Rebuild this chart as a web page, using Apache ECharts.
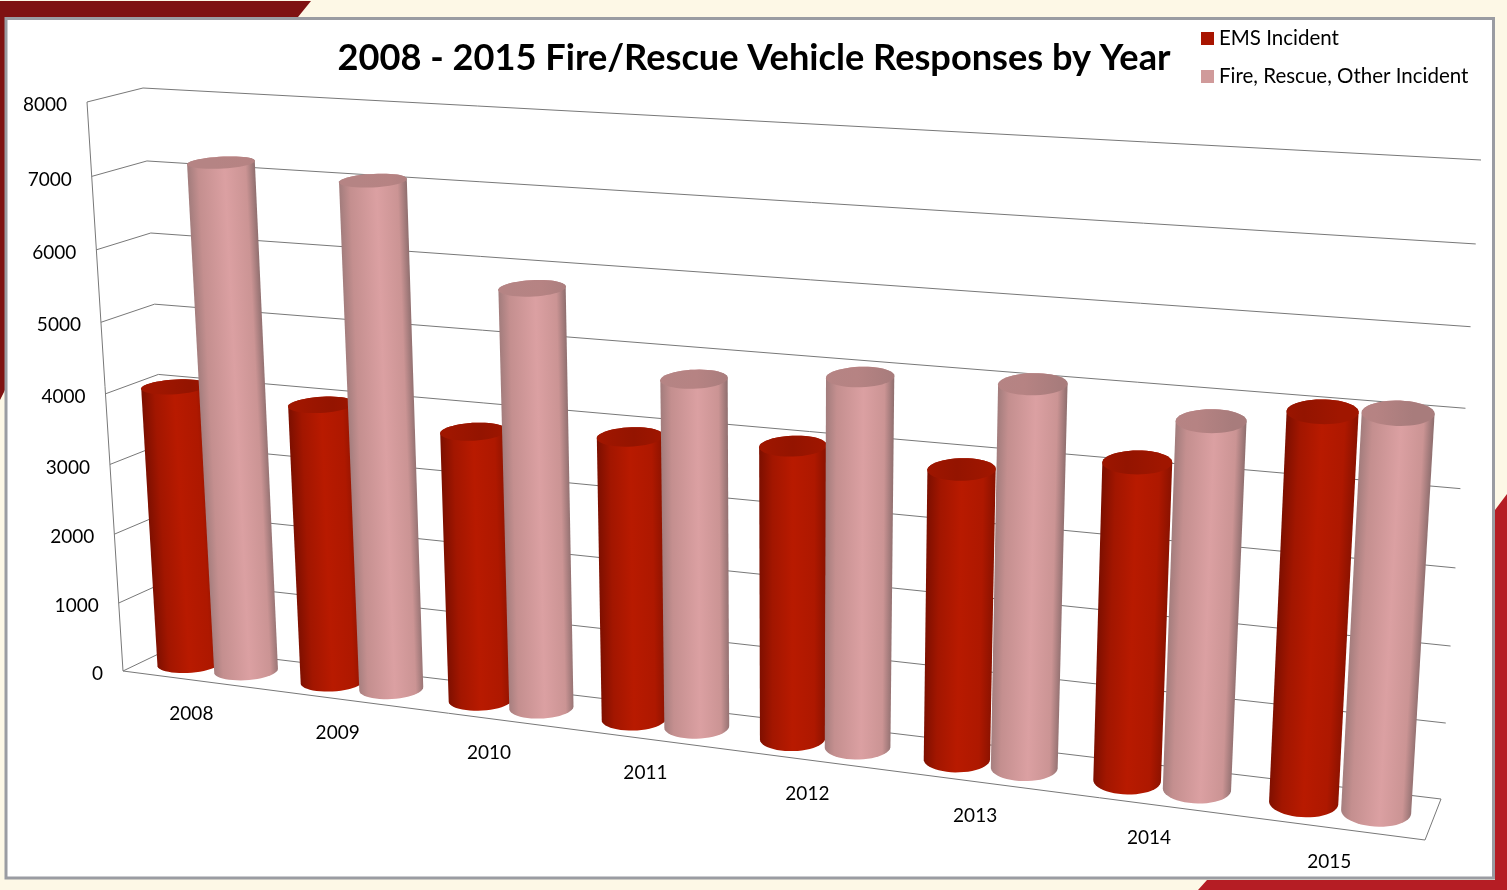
<!DOCTYPE html>
<html><head><meta charset="utf-8">
<style>html,body{margin:0;padding:0;background:#fdf8e6}#c{width:1507px;height:890px}</style>
<script src="https://cdn.jsdelivr.net/npm/echarts@6/dist/echarts.min.js"></script>
</head><body><div id="c"></div>
<script>
const years = ['2008','2009','2010','2011','2012','2013','2014','2015'];
const emsIncidents = [4010,3950,3775,3905,3985,3885,4185,5025];
const fireIncidents = [7170,7065,5785,4755,4970,5065,4790,5085];
const valueTicks = [0,1000,2000,3000,4000,5000,6000,7000,8000];
const FONT = 'Lato';

// hidden cartesian box that the perspective view maps from
const box = {left:100, top:40, width:1000, height:800};
function homography(q){
  const [x0,y0]=q[0],[x1,y1]=q[1],[x2,y2]=q[2],[x3,y3]=q[3];
  const dx1=x1-x2,dx2=x3-x2,sx=x0-x1+x2-x3,dy1=y1-y2,dy2=y3-y2,sy=y0-y1+y2-y3;
  const den=dx1*dy2-dx2*dy1,g=(sx*dy2-dx2*sy)/den,h=(dx1*sy-sx*dy1)/den;
  const a=x1-x0+g*x1,b=x3-x0+h*x3,d=y1-y0+g*y1,e=y3-y0+h*y3;
  return (u,v)=>{const w=g*u+h*v+1;return [(a*u+b*v+x0)/w,(d*u+e*v+y0)/w];};
}
const frontPlane = homography([[123,671],[1425,840],[1463,191],[87,102]]);
const backPlane  = homography([[173,647],[1441,799],[1481,160],[143,88]]);
function project(u,v,d){
  const f=frontPlane(u,v),b=backPlane(u,v);
  return [f[0]+(b[0]-f[0])*d,f[1]+(b[1]-f[1])*d];
}
function toUnit(pt){return [(pt[0]-box.left)/box.width,1-(pt[1]-box.top)/box.height];}

const RU=0.0236, RD=0.36, DC=0.52;
function hull(pts){
  pts=pts.slice().sort((a,b)=>a[0]-b[0]||a[1]-b[1]);
  const cr=(o,a,b)=>(a[0]-o[0])*(b[1]-o[1])-(a[1]-o[1])*(b[0]-o[0]);
  const lo=[],up=[];
  for(const p of pts){while(lo.length>1&&cr(lo[lo.length-2],lo[lo.length-1],p)<=0)lo.pop();lo.push(p);}
  for(const p of pts.slice().reverse()){while(up.length>1&&cr(up[up.length-2],up[up.length-1],p)<=0)up.pop();up.push(p);}
  return lo.slice(0,-1).concat(up.slice(0,-1));
}
function cylinder(offset,stops,capStops){
  return function(params,api){
    const p=api.coord([api.value(0),api.value(1)]);
    const [uc,v]=toUnit(p);
    const u0=uc+offset;
    const ring=h=>{const r=[];for(let k=0;k<48;k++){const t=k/48*Math.PI*2;
      r.push(project(u0+RU*Math.cos(t),h,DC+RD*Math.sin(t)));}return r;};
    const top=ring(v),bot=ring(0),body=hull(top.concat(bot));
    const ct=project(u0,v,DC),cb=project(u0,0,DC);
    let ax=ct[0]-cb[0],ay=ct[1]-cb[1];const L=Math.hypot(ax,ay);ax/=L;ay/=L;
    const px=-ay,py=ax;let mn=1e9,mx=-1e9;
    for(const q of body){const s=(q[0]-cb[0])*px+(q[1]-cb[1])*py;mn=Math.min(mn,s);mx=Math.max(mx,s);}
    const grad=new echarts.graphic.LinearGradient(cb[0]+px*mn,cb[1]+py*mn,cb[0]+px*mx,cb[1]+py*mx,stops,true);
    const capGrad=new echarts.graphic.LinearGradient(cb[0]+px*mn,ct[1],cb[0]+px*mx,ct[1],capStops,true);
    return {type:'group',children:[
      {type:'polygon',shape:{points:body},style:{fill:grad}},
      {type:'polygon',shape:{points:top},style:{fill:capGrad}}
    ]};
  };
}
const emsStops=[{offset:0,color:'#7c0f00'},{offset:.2,color:'#a21600'},{offset:.5,color:'#b81a00'},{offset:.82,color:'#ae1800'},{offset:1,color:'#8a1200'}];
const emsCap=[{offset:0,color:'#a01600'},{offset:.5,color:'#941400'},{offset:1,color:'#a01600'}];
const fireStops=[{offset:0,color:'#a27c7c'},{offset:.16,color:'#c48f8f'},{offset:.55,color:'#dba0a2'},{offset:.86,color:'#cb9494'},{offset:1,color:'#8e6e6e'}];
const fireCap=[{offset:0,color:'#b58484'},{offset:.5,color:'#b68383'},{offset:1,color:'#a87c7c'}];

const LINE={stroke:'#787878',lineWidth:1,fill:null};
function wallItem(params,api){
  const p=api.coord([0,api.value(0)]);const v=toUnit(p)[1];
  const a=project(0,v,0),b=project(0,v,1),c=project(1,v,1);
  const children=[
    {type:'polyline',shape:{points:[a,b,c]},style:LINE},
    {type:'text',style:{text:String(api.value(0)),x:a[0]-20,y:a[1]+3,align:'right',verticalAlign:'middle',
      fill:'#000',font:'19px '+FONT}}
  ];
  if(params.dataIndex===0){
    children.push({type:'polyline',shape:{points:[project(0,1,0),a,project(1,0,0),project(1,0,1)]},style:LINE});
  }
  return {type:'group',children};
}
function yearLabel(params,api){
  const p=api.coord([api.value(0),0]);const u=toUnit(p)[0];
  const a=project(u,0,0);
  return {type:'text',style:{text:years[params.dataIndex],x:a[0]-3,y:a[1]+33.5,align:'center',verticalAlign:'middle',
    fill:'#000',font:'19px '+FONT}};
}

const chart=echarts.init(document.getElementById('c'));
chart.setOption({
  animation:false,
  backgroundColor:'#fdf8e6',
  title:{text:'2008 - 2015 Fire/Rescue Vehicle Responses by Year',left:749,top:35,textAlign:'center',
    textStyle:{fontFamily:FONT,fontWeight:'bold',fontSize:36.2,color:'#000'}},
  legend:{data:['EMS Incident','Fire, Rescue, Other Incident'],orient:'vertical',left:1201,top:28,padding:0,
    itemWidth:13,itemHeight:13,itemGap:17,selectedMode:false,icon:'rect',
    textStyle:{fontFamily:FONT,fontSize:20.5,color:'#000',padding:[0,0,0,0]}},
  grid:{left:box.left,top:box.top,width:box.width,height:box.height,show:false},
  xAxis:{type:'category',data:years,show:false},
  yAxis:{type:'value',min:0,max:8000,interval:1000,show:false},
  graphic:[
    {type:'polygon',shape:{points:[[0,1],[311,1],[298,17],[5,17],[5,390],[0,400]]},style:{fill:'#7f1212'},z:-3},
    {type:'polygon',shape:{points:[[1507,494],[1495,510],[1495,880],[1207,880],[1198,890],[1507,890]]},style:{fill:'#b51d24'},z:-3},
    {type:'rect',shape:{x:6,y:18.5,width:1487.5,height:859.5},style:{fill:'#fff',stroke:'#9a9ca2',lineWidth:3},z:-2}
  ],
  series:[
    {name:'walls',type:'custom',data:valueTicks.map(v=>[v]),renderItem:wallItem,encode:{y:0},silent:true,z:1},
    {name:'EMS Incident',type:'custom',data:years.map((y,i)=>[i,emsIncidents[i]]),encode:{x:0,y:1},
      renderItem:cylinder(-0.0265,emsStops,emsCap),itemStyle:{color:'#a81400'},z:2},
    {name:'Fire, Rescue, Other Incident',type:'custom',data:years.map((y,i)=>[i,fireIncidents[i]]),encode:{x:0,y:1},
      renderItem:cylinder(0.0235,fireStops,fireCap),itemStyle:{color:'#d09a9a'},z:3},
    {name:'years',type:'custom',data:years.map((y,i)=>[i]),encode:{x:0},renderItem:yearLabel,silent:true,z:4}
  ]
});
</script></body></html>
